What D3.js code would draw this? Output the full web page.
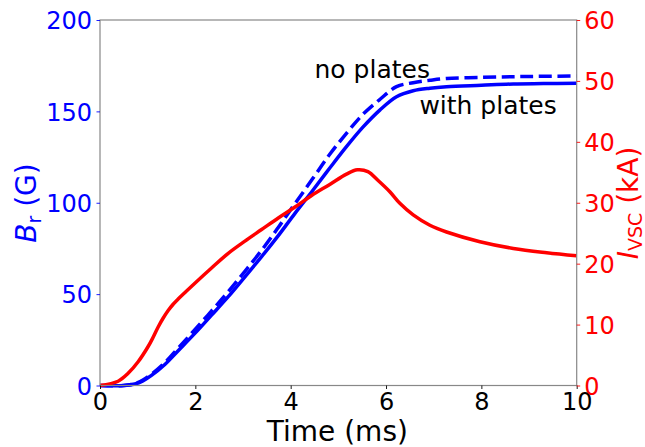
<!DOCTYPE html>
<html>
<head>
<meta charset="utf-8">
<script src="https://cdn.jsdelivr.net/npm/d3@7"></script>
<style>
  html, body { margin: 0; padding: 0; background: #fff; }
  svg { display: block; font-family: "DejaVu Sans", sans-serif; }
</style>
</head>
<body>
<svg id="chart" width="645" height="447"></svg>
<script>
// Radial field with / without plates (G) and vessel current (kA) versus time (ms)
const timeB = [0, 0.5, 0.73, 0.9, 1.08, 1.36, 1.65, 1.99, 2.34, 2.69, 3.04, 3.39, 3.74, 4.09, 4.47, 4.82, 5.17, 5.52, 5.87, 6.22, 6.57, 6.92, 7.27, 8.0, 8.67, 9.3, 10];
const brWithPlates = [0, 0, 0.8, 2.5, 5.5, 11.5, 19.3, 28.5, 38.5, 48.6, 59.5, 70.5, 82, 94.2, 107, 119, 130.7, 141.5, 150.7, 158, 161.3, 162.7, 163.5, 164.3, 165, 165.2, 165.4];
const brNoPlates   = [0, 0, 1, 3, 6.2, 12.5, 20.8, 30.5, 40.8, 51.3, 62.5, 74, 86.5, 99.5, 113.5, 126.5, 138, 148.5, 156.5, 163.5, 165.7, 167, 168, 168.6, 169, 169.2, 169.4];

const timeI = [0, 0.38, 0.59, 0.8, 1.01, 1.12, 1.22, 1.32, 1.43, 1.53, 1.64, 1.8, 1.99, 2.34, 2.69, 3.04, 3.39, 3.74, 4.09, 4.44, 4.82, 5.17, 5.4, 5.62, 5.84, 6.08, 6.29, 6.57, 6.92, 7.27, 7.97, 8.67, 9.37, 10];
const iVsc  = [0, 0.7, 2, 3.9, 6.4, 8.0, 9.6, 11.0, 12.3, 13.3, 14.2, 15.4, 16.8, 19.3, 21.7, 23.7, 25.6, 27.5, 29.3, 31.2, 33, 34.7, 35.4, 35.1, 33.6, 31.8, 29.9, 28, 26.3, 25.2, 23.6, 22.5, 21.8, 21.3];

const timeTicks = [0, 2, 4, 6, 8, 10];
const brTicks = [0, 50, 100, 150, 200];
const iTicks = [0, 10, 20, 30, 40, 50, 60];

const labels = [
  { text: "no plates", t: 4.5, b: 168.5 },
  { text: "with plates", t: 6.7, b: 148.5 }
];

const svg = d3.select("#chart");
const plotLeft = 100, plotRight = 576.7, plotTop = 20, plotBottom = 385.5;

const x = d3.scaleLinear().domain([0, 10]).range([plotLeft, plotRight]);
const yB = d3.scaleLinear().domain([0, 200]).range([plotBottom, plotTop]);
const yI = d3.scaleLinear().domain([0, 60]).range([plotBottom, plotTop]);

const BLUE = "#0000ff", RED = "#ff0000", SPINE = "#888888";

// zero reference line
svg.append("line")
  .attr("x1", x(0)).attr("x2", x(10))
  .attr("y1", yB(0)).attr("y2", yB(0))
  .attr("stroke", "#000").attr("stroke-width", 1)
  .attr("stroke-dasharray", "3.7,1.6");

const smooth = d3.curveCatmullRom.alpha(0.5);
const lineB = d3.line().x(d => x(d[0])).y(d => yB(d[1])).curve(smooth);
const lineI = d3.line().x(d => x(d[0])).y(d => yI(d[1])).curve(smooth);

svg.append("path")
  .attr("d", lineB(timeB.map((t, i) => [t, brNoPlates[i]])))
  .attr("fill", "none").attr("stroke", BLUE).attr("stroke-width", 3.5)
  .attr("stroke-dasharray", "13,5.6");

svg.append("path")
  .attr("d", lineB(timeB.map((t, i) => [t, brWithPlates[i]])))
  .attr("fill", "none").attr("stroke", BLUE).attr("stroke-width", 3.5);

svg.append("path")
  .attr("d", lineI(timeI.map((t, i) => [t, iVsc[i]])))
  .attr("fill", "none").attr("stroke", RED).attr("stroke-width", 3.5);

// frame
svg.append("rect")
  .attr("x", plotLeft).attr("y", plotTop)
  .attr("width", plotRight - plotLeft).attr("height", plotBottom - plotTop)
  .attr("fill", "none").attr("stroke", SPINE).attr("stroke-width", 1.2);

// axes
function styleAxis(g, color) {
  g.select(".domain").remove();
  g.selectAll(".tick line").attr("stroke", color).attr("stroke-width", 0.9);
  g.selectAll(".tick text").attr("fill", color)
    .attr("font-family", "DejaVu Sans").attr("font-size", 24);
}

const gx = svg.append("g").attr("transform", `translate(0,${plotBottom})`)
  .call(d3.axisBottom(x).tickValues(timeTicks).tickFormat(d3.format("d")).tickSize(3.5).tickPadding(4));
styleAxis(gx, "#000");

const gl = svg.append("g").attr("transform", `translate(${plotLeft},0)`)
  .call(d3.axisLeft(yB).tickValues(brTicks).tickFormat(d3.format("d")).tickSize(3.5).tickPadding(4.5));
styleAxis(gl, BLUE);
gl.selectAll(".tick text").attr("dy", "0.36em");

const gr = svg.append("g").attr("transform", `translate(${plotRight},0)`)
  .call(d3.axisRight(yI).tickValues(iTicks).tickFormat(d3.format("d")).tickSize(3.5).tickPadding(4));
styleAxis(gr, RED);
gr.selectAll(".tick text").attr("dy", "0.36em");

// axis titles
svg.append("text")
  .attr("x", (plotLeft + plotRight) / 2 - 1).attr("y", 441)
  .attr("text-anchor", "middle").attr("font-size", 28).attr("fill", "#000")
  .text("Time (ms)");

const yl = svg.append("text")
  .attr("transform", "translate(36,203) rotate(-90)")
  .attr("text-anchor", "middle").attr("font-size", 28).attr("fill", BLUE);
yl.append("tspan").attr("font-style", "italic").text("B");
yl.append("tspan").attr("font-size", 19).attr("dy", 5).text("r");
yl.append("tspan").attr("dy", -5).text(" (G)");

const yr = svg.append("text")
  .attr("transform", "translate(638,203) rotate(-90)")
  .attr("text-anchor", "middle").attr("font-size", 28).attr("fill", RED);
yr.append("tspan").attr("font-style", "italic").text("I");
yr.append("tspan").attr("font-size", 19).attr("dy", 3.5).text("VSC");
yr.append("tspan").attr("dy", -3.5).text(" (kA)");

// curve annotations
svg.selectAll("text.ann").data(labels).enter().append("text")
  .attr("class", "ann")
  .attr("x", d => x(d.t)).attr("y", d => yB(d.b))
  .attr("font-size", 25).attr("fill", "#000")
  .text(d => d.text);
</script>
</body>
</html>
